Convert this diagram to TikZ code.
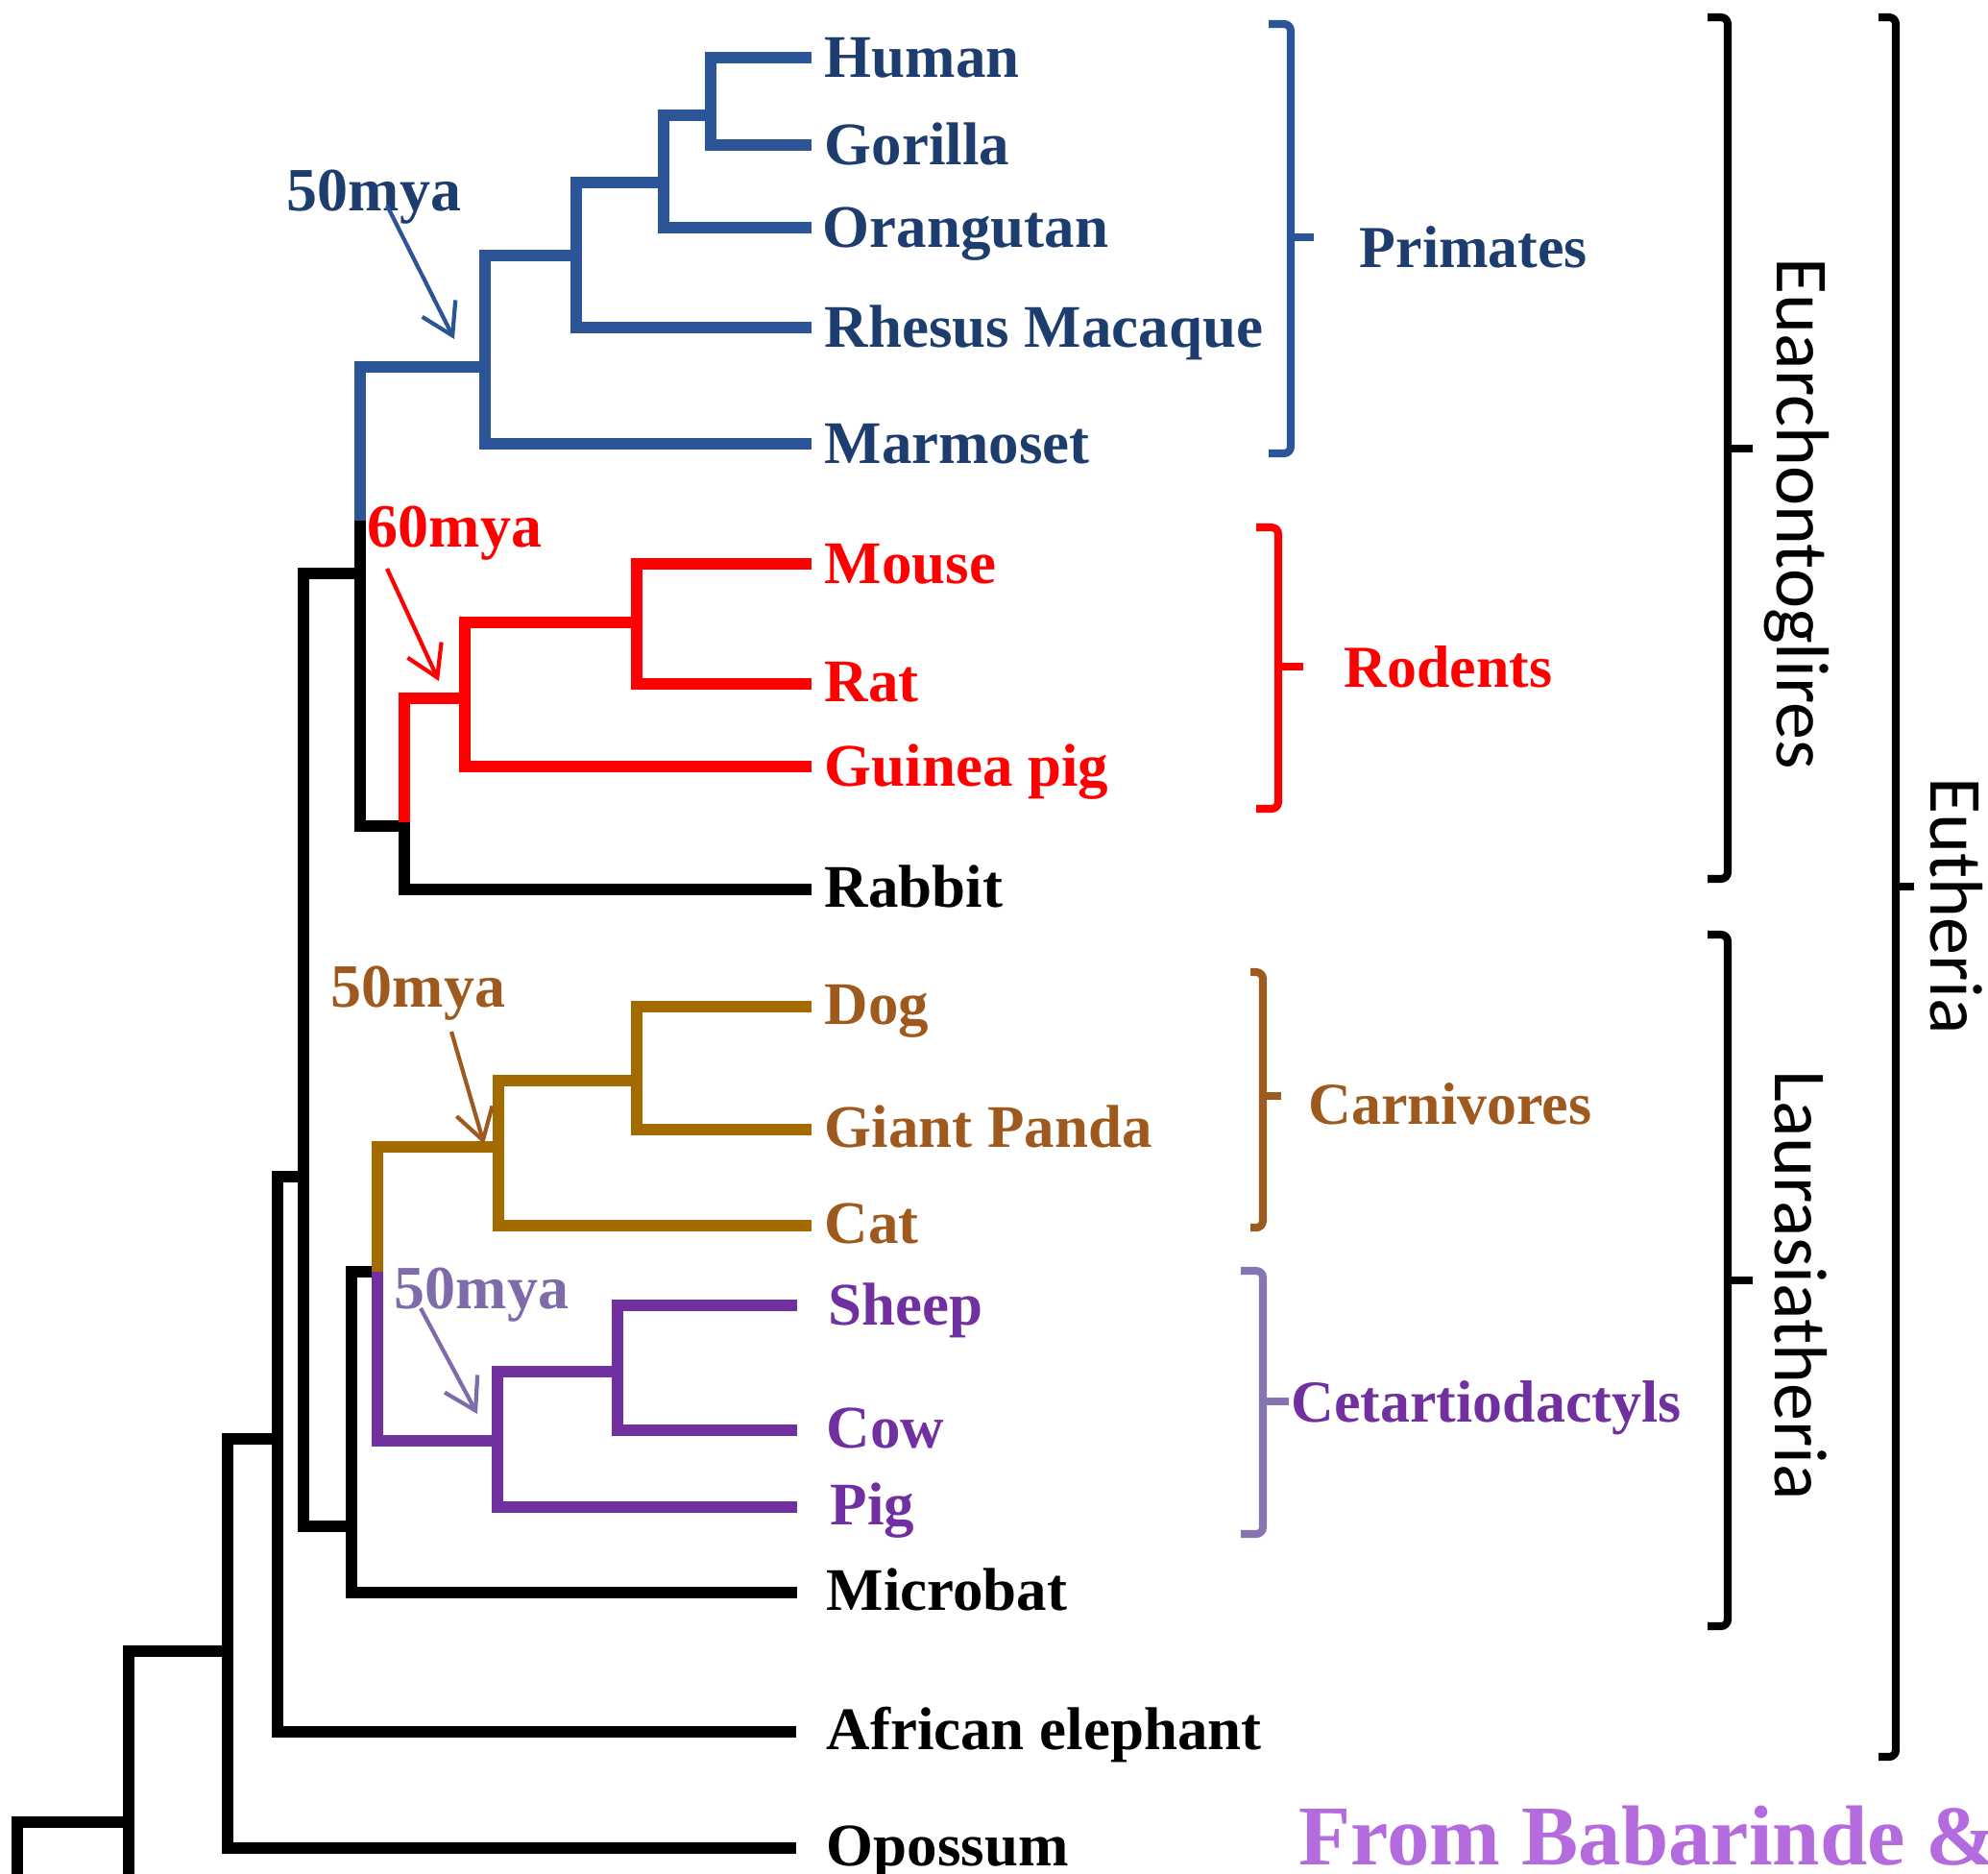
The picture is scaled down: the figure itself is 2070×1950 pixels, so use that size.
\documentclass[tikz,border=0pt]{standalone}
\usepackage{fontspec}
\setmainfont{Liberation Serif}
\newfontfamily\cladesans{Carlito}
\usetikzlibrary{arrows.meta}

\definecolor{prim}{HTML}{2B5597}
\definecolor{primtxt}{HTML}{1C3D6E}
\definecolor{rod}{HTML}{FF0000}
\definecolor{carn}{HTML}{A36A00}
\definecolor{carntxt}{HTML}{9E5A1E}
\definecolor{cet}{HTML}{7030A0}
\definecolor{cetbr}{HTML}{8576B3}
\definecolor{cetmya}{HTML}{7F6AAA}
\definecolor{citecol}{HTML}{B36BDE}

\begin{document}
\begin{tikzpicture}[x=0.01cm,y=-0.01cm,
  br/.style={line width=3.4pt},
  brk/.style={line width=2.3pt, rounded corners=2pt},
  arr/.style={line width=1.2pt, -{Straight Barb[length=9pt,width=11pt,line width=1.2pt]}},
  leaf/.style={anchor=base west, inner sep=0pt, font=\fontsize{17.9pt}{20pt}\selectfont\bfseries},
  mya/.style={anchor=base west, inner sep=0pt, font=\fontsize{18.2pt}{20pt}\selectfont\bfseries},
  clade/.style={anchor=base west, inner sep=0pt, font=\fontsize{17.6pt}{20pt}\selectfont\bfseries},
  super/.style={rotate=-90, anchor=base, inner sep=0pt, font=\cladesans\fontsize{22.2pt}{24pt}\selectfont}]

\useasboundingbox (0,0) rectangle (2070,1950);
\clip (0,0) rectangle (2070,1950);

% leaf tips
\coordinate (tHuman) at (845,60);
\coordinate (tGorilla) at (845,151);
\coordinate (tOrangutan) at (845,237);
\coordinate (tRhesus) at (845,341);
\coordinate (tMarmoset) at (845,462);
\coordinate (tMouse) at (845,587);
\coordinate (tRat) at (845,712);
\coordinate (tGuinea) at (845,798);
\coordinate (tRabbit) at (845,926);
\coordinate (tDog) at (845,1048);
\coordinate (tPanda) at (845,1176);
\coordinate (tCat) at (845,1276);
\coordinate (tSheep) at (830,1359);
\coordinate (tCow) at (830,1489);
\coordinate (tPig) at (830,1569);
\coordinate (tMicrobat) at (830,1658);
\coordinate (tElephant) at (829,1803);
\coordinate (tOpossum) at (829,1924);

% internal nodes (point where the parent branch joins)
\coordinate (nHG) at (740,120);
\coordinate (nHGO) at (691,190);
\coordinate (nHGOR) at (600,266);
\coordinate (nPri) at (505,382);
\coordinate (sBlue) at (375,542);
\coordinate (nEG) at (375,597);
\coordinate (nMR) at (663,648);
\coordinate (nRod) at (484,727);
\coordinate (sRed) at (421,856);
\coordinate (nGl) at (421,860);
\coordinate (nDP) at (663,1125);
\coordinate (nCarn) at (519,1194);
\coordinate (nCC) at (393,1324);
\coordinate (nSC) at (643,1428);
\coordinate (nCet) at (518,1500);
\coordinate (nLaur) at (366,1589);
\coordinate (nBor) at (316,1225);
\coordinate (nEuth) at (289,1498);
\coordinate (nTher) at (237,1719);
\coordinate (nMam) at (134,1897);
\coordinate (eMam) at (134,1960);
\coordinate (eRoot) at (18,1960);

% black backbone
\draw[br] (sBlue) |- (nGl) |- (tRabbit);
\draw[br] (nCC) -| (nLaur) |- (tMicrobat);
\draw[br] (nEG) -| (nBor) |- (nLaur);
\draw[br] (nBor) -| (nEuth) |- (tElephant);
\draw[br] (nEuth) -| (nTher) |- (tOpossum);
\draw[br] (nTher) -| (nMam) -- (eMam);
\draw[br] (nMam) -| (eRoot);

% primates
\draw[br,prim] (tHuman) -| (nHG) |- (tGorilla);
\draw[br,prim] (nHG) -| (nHGO) |- (tOrangutan);
\draw[br,prim] (nHGO) -| (nHGOR) |- (tRhesus);
\draw[br,prim] (nHGOR) -| (nPri) |- (tMarmoset);
\draw[br,prim] (nPri) -| (sBlue);

% rodents
\draw[br,rod] (tMouse) -| (nMR) |- (tRat);
\draw[br,rod] (nMR) -| (nRod) |- (tGuinea);
\draw[br,rod] (nRod) -| (sRed);

% carnivores
\draw[br,carn] (tDog) -| (nDP) |- (tPanda);
\draw[br,carn] (nDP) -| (nCarn) |- (tCat);
\draw[br,carn] (nCarn) -| (nCC);

% cetartiodactyls
\draw[br,cet] (tSheep) -| (nSC) |- (tCow);
\draw[br,cet] (nSC) -| (nCet) |- (tPig);
\draw[br,cet] (nCet) -| (nCC);

% species names
\node[leaf,text=primtxt] (Human) at (858,80) {Human};
\node[leaf,text=primtxt] (Gorilla) at (858,171) {Gorilla};
\node[leaf,text=primtxt] (Orangutan) at (856,257) {Orangutan};
\node[leaf,text=primtxt] (Rhesus) at (858,361) {Rhesus Macaque};
\node[leaf,text=primtxt] (Marmoset) at (858,482) {Marmoset};
\node[leaf,text=rod] (Mouse) at (858,607) {Mouse};
\node[leaf,text=rod] (Rat) at (858,730) {Rat};
\node[leaf,text=rod] (Guinea) at (858,818) {Guinea pig};
\node[leaf] (Rabbit) at (858,944) {Rabbit};
\node[leaf,text=carntxt] (Dog) at (858,1066) {Dog};
\node[leaf,text=carntxt] (Panda) at (858,1194) {Giant Panda};
\node[leaf,text=carntxt] (Cat) at (858,1294) {Cat};
\node[leaf,text=cet] (Sheep) at (862,1379) {Sheep};
\node[leaf,text=cet] (Cow) at (860,1507) {Cow};
\node[leaf,text=cet] (Pig) at (864,1587) {Pig};
\node[leaf] (Microbat) at (860,1676) {Microbat};
\node[leaf] (Elephant) at (860,1821) {African elephant};
\node[leaf] (Opossum) at (860,1942) {Opossum};

% divergence times
\node[mya,text=primtxt] (myaP) at (298,219) {50mya};
\coordinate (aP1) at (403,214);
\coordinate (aP2) at (473,353);
\draw[arr,prim] (aP1) -- (aP2);

\node[mya,text=rod] (myaR) at (382,569) {60mya};
\coordinate (aR1) at (403,592);
\coordinate (aR2) at (457,709);
\draw[arr,rod] (aR1) -- (aR2);

\node[mya,text=carntxt] (myaC) at (344,1048) {50mya};
\coordinate (aC1) at (470,1074);
\coordinate (aC2) at (504,1191);
\draw[arr,carntxt] (aC1) -- (aC2);

\node[mya,text=cetmya] (myaT) at (410,1362) {50mya};
\coordinate (aT1) at (438,1362);
\coordinate (aT2) at (497,1472);
\draw[arr,cetmya] (aT1) -- (aT2);

% order brackets
\draw[brk,prim] (1321,25) -- (1344,25) -- (1344,472) -- (1321,472);
\draw[brk,prim] (1344,247) -- (1368,247);
\node[clade,text=primtxt] (Primates) at (1415,278) {Primates};

\draw[brk,rod] (1308,549) -- (1331,549) -- (1331,842) -- (1308,842);
\draw[brk,rod] (1331,694) -- (1357,694);
\node[clade,text=rod] (Rodents) at (1399,715) {Rodents};

\draw[brk,carntxt] (1302,1012) -- (1315,1012) -- (1315,1278) -- (1302,1278);
\draw[brk,carntxt] (1315,1141) -- (1334,1141);
\node[clade,text=carntxt] (Carnivores) at (1362,1170) {Carnivores};

\draw[brk,cetbr] (1292,1323) -- (1315,1323) -- (1315,1597) -- (1292,1597);
\draw[brk,cetbr] (1315,1459) -- (1342,1459);
\node[clade,text=cet] (Cetart) at (1344,1480) {Cetartiodactyls};

% superorder brackets
\draw[brk] (1778,18) -- (1799,18) -- (1799,915) -- (1778,915);
\draw[brk] (1799,467) -- (1825,467);
\node[super] (Euarch) at (1850,535) {Euarchontoglires};

\draw[brk] (1778,973) -- (1799,973) -- (1799,1693) -- (1778,1693);
\draw[brk] (1799,1333) -- (1825,1333);
\node[super] (Laur) at (1848,1338) {Laurasiatheria};

\draw[brk] (1956,18) -- (1974,18) -- (1974,1829) -- (1956,1829);
\draw[brk] (1974,923) -- (1993,923);
\node[super] (Euth) at (2010,943) {Eutheria};

% source note
\node[anchor=base west, inner sep=0pt, text=citecol,
      font=\fontsize{25.2pt}{27pt}\selectfont\bfseries] (source) at (1352,1941) {From Babarinde \&};

\end{tikzpicture}
\end{document}
